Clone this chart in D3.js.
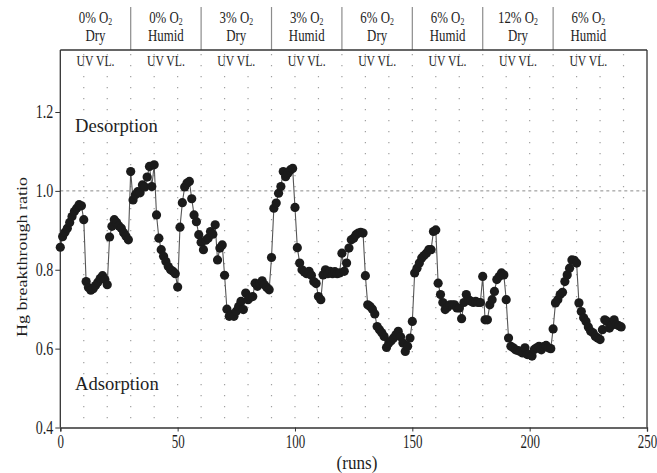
<!DOCTYPE html>
<html><head><meta charset="utf-8">
<script src="https://cdn.jsdelivr.net/npm/d3@7"></script>
<style>
body{margin:0;background:#fff}
svg{display:block}
text{font-family:"Liberation Serif","Times New Roman",serif;fill:#1e1e1e}
</style>
</head><body>
<svg id="c" width="657" height="473"></svg>
<script>
// ---- data ----
const hgRatio = [
 0.857,0.884,0.895,0.905,0.920,0.935,0.948,0.956,0.965,0.962,
 0.927,0.770,0.755,0.748,0.752,0.760,0.768,0.778,0.785,0.775,
 0.762,0.883,0.910,0.927,0.920,0.911,0.905,0.894,0.885,0.876,
 1.049,0.977,0.990,0.998,0.995,1.015,1.010,1.035,1.062,1.011,
 1.066,0.939,0.880,0.851,0.834,0.821,0.808,0.800,0.796,0.790,
 0.756,0.908,0.970,1.010,1.020,1.024,0.980,0.939,0.922,0.889,
 0.870,0.851,0.875,0.880,0.897,0.890,0.914,0.825,0.855,0.863,
 0.786,0.700,0.682,0.686,0.682,0.695,0.707,0.720,0.699,0.741,
 0.724,0.730,0.732,0.766,0.758,0.765,0.772,0.762,0.755,0.749,
 0.831,0.956,0.969,0.994,1.011,1.049,1.036,1.045,1.053,1.057,
 0.958,0.856,0.817,0.800,0.794,0.790,0.796,0.786,0.770,0.765,
 0.732,0.724,0.787,0.800,0.790,0.796,0.790,0.795,0.790,0.792,
 0.842,0.796,0.817,0.855,0.876,0.880,0.889,0.893,0.895,0.893,
 0.785,0.711,0.707,0.700,0.688,0.656,0.648,0.640,0.631,0.603,
 0.614,0.620,0.627,0.635,0.644,0.630,0.614,0.593,0.606,0.627,
 0.669,0.792,0.804,0.817,0.830,0.836,0.842,0.851,0.851,0.897,
 0.901,0.766,0.737,0.717,0.699,0.705,0.711,0.711,0.711,0.703,
 0.703,0.676,0.717,0.737,0.724,0.720,0.717,0.720,0.717,0.717,
 0.783,0.673,0.673,0.711,0.724,0.745,0.775,0.783,0.792,0.787,
 0.724,0.627,0.606,0.602,0.597,0.595,0.593,0.589,0.602,0.585,
 0.585,0.581,0.598,0.602,0.606,0.597,0.605,0.608,0.602,0.600,
 0.650,0.716,0.724,0.737,0.743,0.770,0.787,0.804,0.825,0.824,
 0.817,0.716,0.694,0.678,0.669,0.655,0.644,0.640,0.631,0.627,
 0.623,0.648,0.673,0.669,0.652,0.660,0.673,0.661,0.658,0.655
];
const xTicks = [0,50,100,150,200,250];
const yTicks = [0.4,0.6,0.8,1.0,1.2];
const o2Levels = ["0%","0%","3%","3%","6%","6%","12%","6%"];
const humidity = ["Dry","Humid","Dry","Humid","Dry","Humid","Dry","Humid"];
const lightLabel = "UV VL.";
const segmentLength = 30;
const gridStep = 10;

// ---- layout ----
const svg = d3.select("#c");
const x = d3.scaleLinear().domain([0,250]).range([60.3,647]);
const y = d3.scaleLinear().domain([0.4,1.2]).range([427.5,112]);
const frameTop = 50;
const SX = 0.78; // horizontal glyph compression seen in the reference

function txt(g, str, tx, ty, size, anchor, sx){
  return g.append("text")
    .attr("transform", `translate(${tx},${ty}) scale(${sx==null?SX:sx},1)`)
    .attr("font-size", size)
    .attr("text-anchor", anchor || "middle")
    .text(str);
}

// dotted vertical grid
svg.append("g").selectAll("line")
  .data(d3.range(gridStep, 250, gridStep))
  .join("line")
  .attr("x1", d=>x(d)).attr("x2", d=>x(d))
  .attr("y1", frameTop+4).attr("y2", y(0.4))
  .attr("stroke", "#a0a0a0").attr("stroke-width", 1.2)
  .attr("stroke-dasharray", "1.3,9.7");

// dotted 1.0 line
svg.append("line")
  .attr("x1", x(0)).attr("x2", x(250))
  .attr("y1", y(1.0)).attr("y2", y(1.0))
  .attr("stroke", "#8a8a8a").attr("stroke-width", 1)
  .attr("stroke-dasharray", "3,3");

// header separators
const segIdx = d3.range(o2Levels.length);
svg.append("g").selectAll("line")
  .data(segIdx.slice(1))
  .join("line")
  .attr("x1", d=>x(d*segmentLength)).attr("x2", d=>x(d*segmentLength))
  .attr("y1", 7).attr("y2", frameTop)
  .attr("stroke", "#8c8c8c").attr("stroke-width", 1.2);

// frame
svg.append("line").attr("x1", x(0)).attr("x2", x(250)).attr("y1", frameTop).attr("y2", frameTop)
  .attr("stroke", "#333").attr("stroke-width", 1.3);
svg.append("line").attr("x1", x(250)).attr("x2", x(250)).attr("y1", frameTop).attr("y2", y(0.4))
  .attr("stroke", "#333").attr("stroke-width", 1.3);
svg.append("line").attr("x1", x(0)).attr("x2", x(0)).attr("y1", frameTop).attr("y2", y(0.4))
  .attr("stroke", "#333").attr("stroke-width", 1.3);

// axes
const ax = svg.append("g").attr("transform", `translate(0,${y(0.4)})`)
  .call(d3.axisBottom(x).tickValues(xTicks).tickSize(4).tickFormat(d3.format("d")));
ax.select(".domain").attr("stroke", "#333").attr("stroke-width", 1.3);
ax.selectAll(".tick line").attr("stroke", "#333");
ax.selectAll(".tick text").attr("font-size", 18).attr("y", 0).attr("dy", 0)
  .attr("transform", `translate(0,20) scale(0.72,1)`).attr("font-family", null);

const ay = svg.append("g").attr("transform", `translate(${x(0)},0)`)
  .call(d3.axisLeft(y).tickValues(yTicks).tickSize(5).tickFormat(d3.format(".1f")));
ay.select(".domain").remove();
ay.selectAll(".tick line").attr("stroke", "#333");
ay.selectAll(".tick text").attr("font-size", 18).attr("x", 0).attr("dy", "0.33em")
  .attr("transform", `translate(-7,0) scale(${SX},1)`).attr("font-family", null);

// header text
const hdr = svg.append("g");
segIdx.forEach(i=>{
  const cx = x(i*segmentLength + segmentLength/2);
  const t = hdr.append("text")
    .attr("transform", `translate(${cx},23) scale(${SX},1)`)
    .attr("font-size", 16.5).attr("text-anchor", "middle");
  t.append("tspan").text(o2Levels[i] + " O");
  t.append("tspan").attr("font-size", 10).attr("dy", 1.5).text("2");
  txt(hdr, humidity[i], cx, 41, 16.5);
  txt(hdr, lightLabel, cx, 66, 15);
});

// annotations
txt(svg, "Desorption", 75, 132, 19, "start", 0.98);
txt(svg, "Adsorption", 75, 390, 19, "start", 0.98);
txt(svg, "(runs)", 357, 469, 18, "middle", 0.95);
svg.append("text")
  .attr("transform", `translate(22,257) rotate(-90) scale(1,${SX})`)
  .attr("font-size", 18).attr("text-anchor", "middle").attr("dy", "0.33em")
  .text("Hg breakthrough ratio");

// series
svg.append("path").datum(hgRatio)
  .attr("fill", "none").attr("stroke", "#555").attr("stroke-width", 1.1)
  .attr("d", d3.line().x((d,i)=>x(i)).y(d=>y(d)));
svg.append("g").selectAll("circle").data(hgRatio).join("circle")
  .attr("cx", (d,i)=>x(i)).attr("cy", d=>y(d)).attr("r", 4.6)
  .attr("fill", "#1b1b1b");
</script>
</body></html>
